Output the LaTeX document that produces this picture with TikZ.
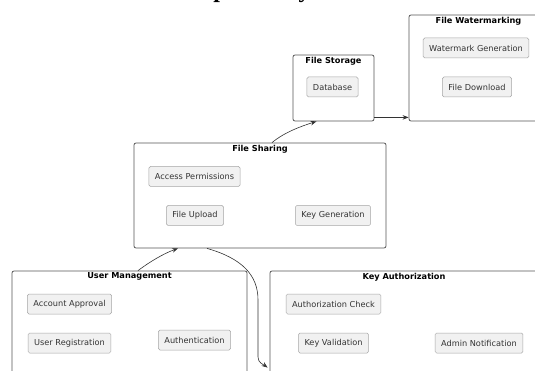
\documentclass[tikz,border=0pt]{standalone}
\usepackage{xcolor}
\usepackage{fontspec}
\setmainfont{DejaVu Sans}
\newfontfamily\titlefont{Liberation Serif}
\usepackage{tikz}
\usetikzlibrary{arrows.meta, positioning, calc}
\definecolor{itemfill}{HTML}{F1F1F1}
\definecolor{itemline}{HTML}{A6A6A6}
\definecolor{groupline}{HTML}{555555}
\definecolor{linkcol}{HTML}{333333}

\begin{document}
\begin{tikzpicture}[
    x=1pt, y=-1pt,
    group/.style={draw=groupline, line width=0.8pt, rounded corners=2pt,
                  fill=white, inner sep=0pt},
    grouptitle/.style={anchor=north, inner sep=0pt, yshift=-2pt,
                       font=\fontsize{8.2}{10}\selectfont\bfseries},
    item/.style={draw=itemline, fill=itemfill, line width=0.5pt,
                 rounded corners=1.5pt, minimum height=20pt, inner xsep=6pt,
                 font=\fontsize{8.2}{10}\selectfont, text=black!80},
    arrow/.style={-{Stealth[length=6pt, width=4.5pt]}, draw=linkcol,
                  line width=0.6pt},
]
    \useasboundingbox (0,0) rectangle (535,371);

    % clipped heading, only its descenders show
    \node[anchor=base, inner sep=0pt, font=\titlefont\fontsize{24}{28}\selectfont\bfseries]
        (heading) at (248,-2) {Dependency};

    % containers
    \node[group, minimum width=81pt, minimum height=66pt] (storage) at (333.5,88) {};
    \node[grouptitle] at (storage.north) {File Storage};
    \node[group, minimum width=139pt, minimum height=106pt] (watermark) at (478.5,68) {};
    \node[grouptitle] at (watermark.north) {File Watermarking};
    \node[group, minimum width=252pt, minimum height=105pt] (sharing) at (260,195.5) {};
    \node[grouptitle] at (sharing.north) {File Sharing};
    \node[group, minimum width=235pt, minimum height=140pt] (usermgmt) at (129.5,341) {};
    \node[grouptitle] at (usermgmt.north) {User Management};
    \node[group, minimum width=268pt, minimum height=140pt] (keyauth) at (404,341) {};
    \node[grouptitle] at (keyauth.north) {Key Authorization};

    % items
    \node[item] (database) at (332.5,87) {Database};
    \node[item] (wmgen) at (476,48) {Watermark Generation};
    \node[item] (download) at (477,87) {File Download};
    \node[item] (perms) at (194.5,176.5) {Access Permissions};
    \node[item] (upload) at (195,215.5) {File Upload};
    \node[item] (keygen) at (333,215.5) {Key Generation};
    \node[item] (approval) at (69.5,304) {Account Approval};
    \node[item] (register) at (69.5,343) {User Registration};
    \node[item] (authn) at (194.5,340) {Authentication};
    \node[item] (authcheck) at (333.5,304) {Authorization Check};
    \node[item] (keyval) at (333.5,343) {Key Validation};
    \node[item] (notify) at (479,343) {Admin Notification};

    % links
    \coordinate (kin) at ($(keyauth.north west)+(-2,97)$);
    \draw[arrow] ([yshift=4pt]storage.south east) -- ([yshift=4pt]watermark.south west);
    \draw[arrow] ([xshift=12pt]sharing.north) .. controls +(12,-10) and +(-16,5)
        .. ([xshift=-17pt]storage.south);
    \draw[arrow] ([xshift=8.5pt]usermgmt.north) .. controls +(12,-9) and +(-14,5)
        .. ([xshift=-82pt]sharing.south);
    \draw[arrow] ([xshift=-53pt]sharing.south) .. controls +(35,10) and +(0,-25)
        .. (258,300) -- (258,357) .. controls +(0,6) and +(-4,-3) .. (kin);
\end{tikzpicture}
\end{document}
